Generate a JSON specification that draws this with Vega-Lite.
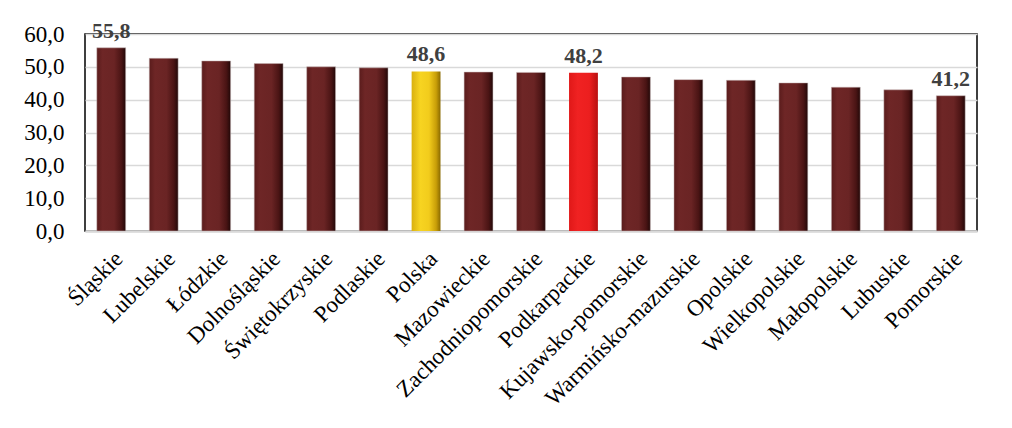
{
  "$schema": "https://vega.github.io/schema/vega-lite/v6.json",
  "width": 892,
  "height": 197,
  "autosize": {"type": "none"},
  "padding": {"left": 85, "top": 34, "right": 35, "bottom": 197},
  "background": "white",
  "config": {
    "locale": {"number": {"decimal": ",", "thousands": " ", "grouping": [3], "currency": ["", " zł"]}},
    "font": "Liberation Serif",
    "view": {"stroke": "#000000", "strokeWidth": 1.5}
  },
  "data": {
    "values": [
      {"region": "Śląskie", "value": 55.8},
      {"region": "Lubelskie", "value": 52.6},
      {"region": "Łódzkie", "value": 51.8},
      {"region": "Dolnośląskie", "value": 51.0},
      {"region": "Świętokrzyskie", "value": 50.0},
      {"region": "Podlaskie", "value": 49.7},
      {"region": "Polska", "value": 48.6},
      {"region": "Mazowieckie", "value": 48.4},
      {"region": "Zachodniopomorskie", "value": 48.3},
      {"region": "Podkarpackie", "value": 48.2},
      {"region": "Kujawsko-pomorskie", "value": 46.9},
      {"region": "Warmińsko-mazurskie", "value": 46.1},
      {"region": "Opolskie", "value": 45.9},
      {"region": "Wielkopolskie", "value": 45.1},
      {"region": "Małopolskie", "value": 43.8},
      {"region": "Lubuskie", "value": 43.0},
      {"region": "Pomorskie", "value": 41.2}
    ]
  },
  "encoding": {
    "x": {
      "field": "region", "type": "nominal",
      "sort": ["Śląskie", "Lubelskie", "Łódzkie", "Dolnośląskie", "Świętokrzyskie", "Podlaskie", "Polska", "Mazowieckie", "Zachodniopomorskie", "Podkarpackie", "Kujawsko-pomorskie", "Warmińsko-mazurskie", "Opolskie", "Wielkopolskie", "Małopolskie", "Lubuskie", "Pomorskie"],
      "scale": {"paddingInner": 0.45, "paddingOuter": 0.225},
      "axis": {
        "title": null, "labelAngle": -45, "labelFontSize": 23, "labelColor": "#000000",
        "labelFont": "Liberation Serif", "labelPadding": 16, "ticks": false,
        "domainColor": "#d9d9d9", "domainWidth": 2.5, "labelLimit": 400
      }
    },
    "y": {
      "field": "value", "type": "quantitative",
      "scale": {"domain": [0, 60], "nice": false},
      "axis": {
        "title": null, "values": [0, 10, 20, 30, 40, 50, 60], "format": ".1f",
        "labelFontSize": 23, "labelColor": "#000000", "labelFont": "Liberation Serif",
        "ticks": false, "labelPadding": 21, "domain": false,
        "gridColor": "#d9d9d9", "gridWidth": 1.5
      }
    }
  },
  "layer": [
    {
      "transform": [{"filter": "datum.region !== 'Polska' && datum.region !== 'Podkarpackie'"}],
      "mark": {
        "type": "bar",
        "color": {"gradient": "linear", "x1": 0, "x2": 1, "y1": 0, "y2": 0,
          "stops": [
            {"offset": 0, "color": "#5a1c1c"},
            {"offset": 0.2, "color": "#6e2626"},
            {"offset": 0.6, "color": "#6a2424"},
            {"offset": 0.85, "color": "#4a1414"},
            {"offset": 1, "color": "#220808"}
          ]},
        "stroke": "#c8b8b8", "strokeWidth": 0.5
      }
    },
    {
      "transform": [{"filter": "datum.region === 'Polska'"}],
      "mark": {
        "type": "bar",
        "color": {"gradient": "linear", "x1": 0, "x2": 1, "y1": 0, "y2": 0,
          "stops": [
            {"offset": 0, "color": "#d9b010"},
            {"offset": 0.3, "color": "#f7d421"},
            {"offset": 0.6, "color": "#f2cc1c"},
            {"offset": 0.85, "color": "#c89e08"},
            {"offset": 1, "color": "#8a6a00"}
          ]}
      }
    },
    {
      "transform": [{"filter": "datum.region === 'Podkarpackie'"}],
      "mark": {
        "type": "bar",
        "color": {"gradient": "linear", "x1": 0, "x2": 1, "y1": 0, "y2": 0,
          "stops": [
            {"offset": 0, "color": "#e01818"},
            {"offset": 0.3, "color": "#f02222"},
            {"offset": 0.7, "color": "#ec1f1f"},
            {"offset": 1, "color": "#b81010"}
          ]}
      }
    },
    {
      "transform": [{"filter": {"field": "region", "oneOf": ["Śląskie", "Polska", "Podkarpackie", "Pomorskie"]}}],
      "mark": {"type": "text", "dy": -17, "fontSize": 22, "fontWeight": "bold", "color": "#404040", "font": "Liberation Serif"},
      "encoding": {"text": {"field": "value", "type": "quantitative", "format": ".1f"}}
    }
  ]
}
